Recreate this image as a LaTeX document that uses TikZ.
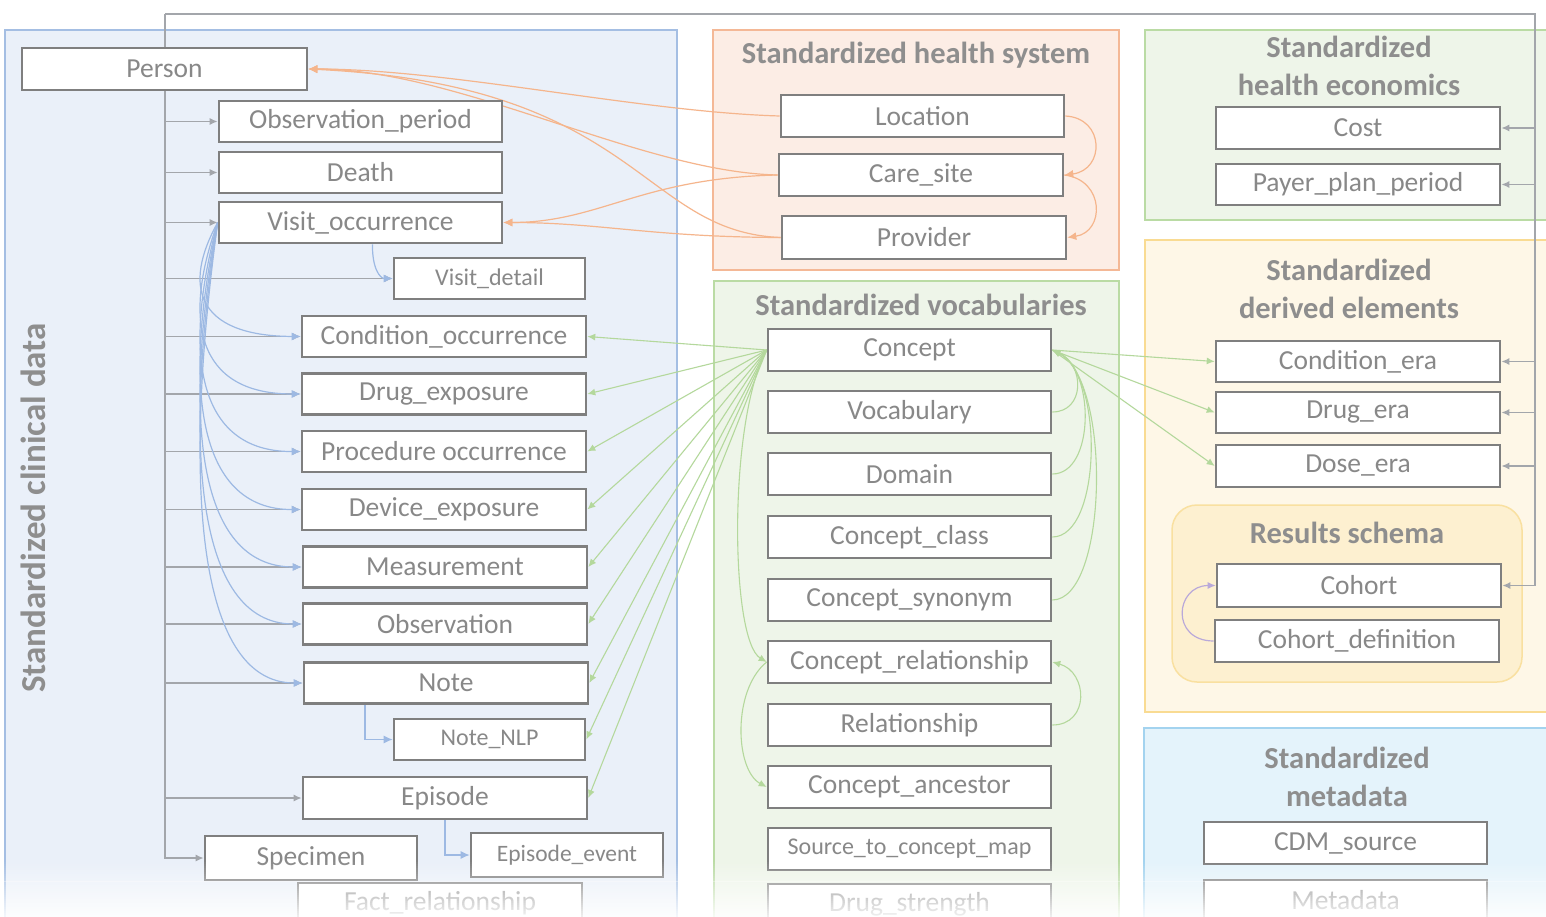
\documentclass[tikz,border=0pt]{standalone}
\usepackage{fontspec}
\setmainfont{Carlito}
\usetikzlibrary{arrows.meta}
\pgfdeclarelayer{bg}
\pgfdeclarelayer{conn}
\pgfdeclarelayer{fade}
\pgfsetlayers{bg,conn,main,fade}
\definecolor{boxgray}{HTML}{7F7F7F}
\definecolor{txtgray}{HTML}{888888}
\definecolor{titlegray}{HTML}{8E8E8E}
\definecolor{treegray}{HTML}{A3A6AB}
\definecolor{clinfill}{HTML}{EAF0F9}
\definecolor{clinborder}{HTML}{A4BEE3}
\definecolor{hsfill}{HTML}{FCEDE5}
\definecolor{hsborder}{HTML}{F4B896}
\definecolor{grnfill}{HTML}{EEF5E9}
\definecolor{grnborder}{HTML}{BADBA4}
\definecolor{derfill}{HTML}{FEF7E7}
\definecolor{derborder}{HTML}{F9DB92}
\definecolor{resfill}{HTML}{FDF0D0}
\definecolor{resborder}{HTML}{F9E0A0}
\definecolor{metafill}{HTML}{E4F3FB}
\definecolor{metaborder}{HTML}{A3D3EF}
\definecolor{blueline}{HTML}{9DB9E3}
\definecolor{greenline}{HTML}{B4D89C}
\definecolor{orangeline}{HTML}{F5B58C}
\definecolor{purpleline}{HTML}{B9A9D9}
\newcommand\tblfont{\fontsize{27.5}{29}\selectfont}
\newcommand\smtblfont{\fontsize{24}{26}\selectfont}
\newcommand\ttlfont{\fontsize{30.5}{38}\selectfont\bfseries}
\begin{document}
\begin{tikzpicture}[x=1pt,y=-1pt,
  tbl/.style={draw=boxgray, line width=2.6pt, fill=white, minimum height=41pt,
    minimum width=284pt, inner sep=0pt, font=\tblfont, text=txtgray},
  grp/.style={line width=1.5pt},
  ttl/.style={font=\ttlfont, text=titlegray, align=center, inner sep=0pt},
  tree/.style={draw=treegray, line width=1.5pt},
  treearrow/.style={tree, -{Latex[length=8pt,width=7pt]}},
  blueln/.style={draw=blueline, line width=1.2pt, -{Latex[length=9pt,width=8pt]}},
  grnln/.style={draw=greenline, line width=1.1pt, -{Latex[length=8pt,width=7pt]}},
  orgln/.style={draw=orangeline, line width=1.2pt, -{Latex[length=9pt,width=8pt]}},
  purln/.style={draw=purpleline, line width=1.2pt, -{Latex[length=8pt,width=7pt]}}]
\useasboundingbox (0,0) rectangle (1546,917);
\clip (0,0) rectangle (1546,917);

\begin{pgfonlayer}{bg}
\fill[white] (0,0) rectangle (1546,917);
\filldraw[grp, fill=clinfill, draw=clinborder] (5,30) rectangle (677,940);
\filldraw[grp, fill=hsfill, draw=hsborder] (713,30) rectangle (1119,270);
\filldraw[grp, fill=grnfill, draw=grnborder] (1145,30) rectangle (1570,220);
\filldraw[grp, fill=grnfill, draw=grnborder] (714,281) rectangle (1119,940);
\filldraw[grp, fill=derfill, draw=derborder] (1145,240) rectangle (1570,712);
\filldraw[grp, fill=resfill, draw=resborder, rounded corners=25pt] (1172,505) rectangle (1522,682);
\filldraw[grp, fill=metafill, draw=metaborder] (1144,728) rectangle (1570,940);
\end{pgfonlayer}

% titles
\node[ttl, rotate=90, font=\fontsize{35}{38}\selectfont\bfseries] (tclin) at (33,508) {Standardized clinical data};
\node[ttl] (ths) at (916,55) {Standardized health system};
\node[ttl] (the) at (1349,66) {Standardized\\health economics};
\node[ttl] (tvoc) at (921,305) {Standardized vocabularies};
\node[ttl] (tder) at (1349,289) {Standardized\\derived elements};
\node[ttl] (tres) at (1347,533) {Results schema};
\node[ttl] (tmeta) at (1347,777) {Standardized\\metadata};

% tree anchors
\coordinate (tl) at (165,14);
\coordinate (tr) at (1535,14);

% clinical
\node[tbl, minimum width=285pt, minimum height=42pt] (person) at (164.5,69) {Person};
\node[tbl, minimum width=283pt] (obsp) at (360.5,121.5) {Observation\_period};
\node[tbl, minimum width=283pt] (death) at (360.5,172.5) {Death};
\node[tbl, minimum width=283pt] (visit) at (360.5,222.5) {Visit\_occurrence};
\node[tbl, minimum width=191pt, font=\smtblfont] (vdet) at (489.5,278.5) {Visit\_detail};
\node[tbl] (cond) at (444,336.5) {Condition\_occurrence};
\node[tbl] (drug) at (444,394) {Drug\_exposure};
\node[tbl] (proc) at (444,451.5) {Procedure occurrence};
\node[tbl] (dev) at (444,509.5) {Device\_exposure};
\node[tbl] (meas) at (445,567) {Measurement};
\node[tbl] (obs) at (445,624) {Observation};
\node[tbl] (note) at (446,683) {Note};
\node[tbl, minimum width=191pt, font=\smtblfont] (nlp) at (489.5,739.5) {Note\_NLP};
\node[tbl, minimum height=42pt] (epis) at (445,798) {Episode};
\node[tbl, minimum width=212pt, minimum height=44pt] (spec) at (311,858) {Specimen};
\node[tbl, minimum width=192pt, minimum height=44pt, font=\fontsize{23.5}{25}\selectfont] (epev) at (567,855) {Episode\_event};
\node[tbl, minimum height=40pt] (fact) at (440,903) {Fact\_relationship};
% health system
\node[tbl, minimum width=283pt, minimum height=42pt] (loc) at (922.5,116) {Location};
\node[tbl, minimum height=42pt] (care) at (921,175) {Care\_site};
\node[tbl, minimum height=43pt] (prov) at (924,237.5) {Provider};
% economics
\node[tbl, minimum height=42pt] (cost) at (1358,128) {Cost};
\node[tbl] (payer) at (1358,184.5) {Payer\_plan\_period};
% vocabularies
\node[tbl, minimum width=283pt, minimum height=42pt] (concept) at (909.5,350) {Concept};
\node[tbl, minimum width=283pt, minimum height=42pt] (vocab) at (909.5,412) {Vocabulary};
\node[tbl, minimum width=283pt, minimum height=42pt] (domain) at (909.5,474) {Domain};
\node[tbl, minimum width=283pt, minimum height=42pt] (cclass) at (909.5,537) {Concept\_class};
\node[tbl, minimum width=283pt, minimum height=42pt] (csyn) at (909.5,600) {Concept\_synonym};
\node[tbl, minimum width=283pt, minimum height=42pt] (crel) at (909.5,662) {Concept\_relationship};
\node[tbl, minimum width=283pt, minimum height=42pt] (rel) at (909.5,725) {Relationship};
\node[tbl, minimum width=283pt, minimum height=42pt] (canc) at (909.5,787) {Concept\_ancestor};
\node[tbl, minimum width=283pt, minimum height=42pt, font=\smtblfont] (stcm) at (909.5,849) {Source\_to\_concept\_map};
\node[tbl, minimum width=283pt, minimum height=40pt] (dstr) at (909.5,904) {Drug\_strength};
% derived
\node[tbl] (cera) at (1358,361.5) {Condition\_era};
\node[tbl] (drugera) at (1358,412.5) {Drug\_era};
\node[tbl, minimum height=42pt] (doseera) at (1358,466) {Dose\_era};
\node[tbl, minimum height=43pt] (cohort) at (1359,585.5) {Cohort};
\node[tbl, minimum height=42pt] (cohdef) at (1357,641) {Cohort\_definition};
% metadata
\node[tbl, minimum width=283pt, minimum height=42pt] (cdm) at (1345.5,843) {CDM\_source};
\node[tbl, minimum width=283pt, minimum height=40pt] (meta) at (1345.5,900) {Metadata};

\begin{pgfonlayer}{conn}
% tree left
\draw[treearrow] (tl) |- (spec.west);
\foreach \n in {obsp,death,visit,vdet,cond,drug,proc,dev,meas,obs,note,epis}
  \draw[treearrow] (tl |- \n.west) -- (\n.west);
% tree top/right
\draw[treearrow] (tl) -- (tr) |- (cohort.east);
\foreach \n in {cost,payer,cera,drugera,doseera}
  \draw[treearrow] (tr |- \n.east) -- (\n.east);

% blue: visit occurrence to events
\draw[blueln] (visit.west) .. controls (183,285) and (195,336) .. (cond.west);
\draw[blueln] (visit.west) .. controls (183,318) and (195,394) .. (drug.west);
\draw[blueln] (visit.west) .. controls (183,350) and (195,452) .. (proc.west);
\draw[blueln] (visit.west) .. controls (183,382) and (195,510) .. (dev.west);
\draw[blueln] (visit.west) .. controls (183,413) and (195,567) .. (meas.west);
\draw[blueln] (visit.west) .. controls (183,445) and (195,624) .. (obs.west);
\draw[blueln] (visit.west) .. controls (183,477) and (195,683) .. (note.west);
\draw[blueln] ([xshift=12pt]visit.south) .. controls (372,268) and (380,278.5) .. (vdet.west);
\draw[blueln] ([xshift=-81pt]note.south) |- (nlp.west);
\draw[blueln] (epis.south) |- (epev.west);

% green: concept to clinical
\foreach \n in {cond,drug,proc,dev,meas,obs,note,nlp,epis}
  \draw[grnln] (concept.west) -- (\n.east);
% green: concept to eras
\foreach \n in {cera,drugera,doseera}
  \draw[grnln] (concept.east) -- (\n.west);
% green: vocab internal
\draw[grnln] (vocab.east) .. controls (1085,412) and (1085,365) .. (concept.east);
\draw[grnln] (domain.east) .. controls (1095,474) and (1095,370) .. (concept.east);
\draw[grnln] (cclass.east) .. controls (1102,537) and (1104,375) .. (concept.east);
\draw[grnln] (csyn.east) .. controls (1108,600) and (1112,380) .. (concept.east);
\draw[grnln] (rel.east) .. controls (1090,725) and (1088,672) .. (crel.east);
\draw[grnln] (concept.west) .. controls (728,420) and (730,640) .. (crel.west);
\draw[grnln] (crel.west) .. controls (732,690) and (735,770) .. (canc.west);

% orange
\draw[orgln] (loc.west) .. controls (640,112) and (450,69) .. (person.east);
\draw[orgln] (care.west) .. controls (640,172) and (460,69) .. (person.east);
\draw[orgln] (prov.west) .. controls (640,232) and (640,85) .. (person.east);
\draw[orgln] (care.west) .. controls (640,178) and (600,222.5) .. (visit.east);
\draw[orgln] (prov.west) .. controls (650,237) and (600,222.5) .. (visit.east);
\draw[orgln] (loc.east) .. controls (1105,118) and (1105,170) .. (care.east);
\draw[orgln] (care.east) .. controls (1105,180) and (1105,232) .. (prov.east);

% purple
\draw[purln] (cohdef.west) .. controls (1170,641) and (1175,585.5) .. (cohort.west);
\end{pgfonlayer}

\begin{pgfonlayer}{fade}
\foreach \i in {0,...,29}
  \fill[white, opacity={0.031*\i}] (0,{860+1.95*\i}) rectangle (1546,{862+1.95*\i});
\end{pgfonlayer}
\end{tikzpicture}
\end{document}
